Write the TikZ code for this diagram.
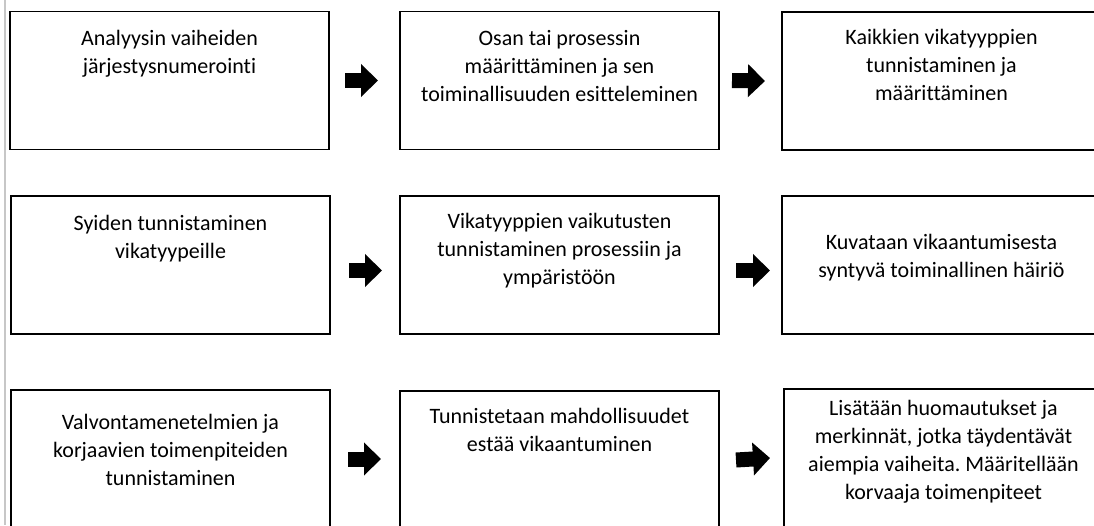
\documentclass[tikz,border=0pt]{standalone}
\usepackage{fontspec}
\setmainfont{Carlito}[Ligatures=NoCommon]
\usetikzlibrary{arrows.meta}
\frenchspacing

\tikzset{
  stage/.style={draw, line width=1.6pt, minimum width=319pt, minimum height=138pt,
    inner sep=0pt, outer sep=0pt},
  stagetext/.style={anchor=north, align=center, inner sep=0pt,
    font=\fontsize{22}{28}\selectfont, execute at begin node=\strut},
  blockarrow/.style={line width=15pt, -{Triangle[length=17pt,width=32pt]}}
}

\begin{document}
\begin{tikzpicture}[x=1pt,y=-1pt]
\useasboundingbox (0,0) rectangle (1094,525);
\clip (0,0) rectangle (1094,525);
\draw[black!22, line width=1.5pt] (5,0) -- (5,525);

% first row
\node[stage] (b11) at (169.5,80.5) {};
\node[stage] (b12) at (559.5,80.5) {};
\node[stage] (b13) at (941.5,81) {};
\node[stagetext, yshift=-18.4pt] at (b11.north) {Analyysin vaiheiden\\järjestysnumerointi};
\node[stagetext, yshift=-18.5pt] at (b12.north) {Osan tai prosessin\\määrittäminen ja sen\\toiminallisuuden esitteleminen};
\node[stagetext, yshift=-17pt] at (b13.north) {Kaikkien vikatyyppien\\tunnistaminen ja\\määrittäminen};

% second row
\node[stage] (b21) at (170.5,265) {};
\node[stage] (b22) at (559.5,265) {};
\node[stage] (b23) at (941.5,265) {};
\node[stagetext, yshift=-19pt] at (b21.north) {Syiden tunnistaminen\\vikatyypeille};
\node[stagetext, yshift=-17.4pt] at (b22.north) {Vikatyyppien vaikutusten\\tunnistaminen prosessiin ja\\ympäristöön};
\node[stagetext, yshift=-38.4pt] at (b23.north) {Kuvataan vikaantumisesta\\syntyvä toiminallinen häiriö};

% third row
\node[stage] (b31) at (170.5,459) {};
\node[stage] (b32) at (559.5,460) {};
\node[stage] (b33) at (943.5,458) {};
\node[stagetext, yshift=-24pt] at (b31.north) {Valvontamenetelmien ja\\korjaavien toimenpiteiden\\tunnistaminen};
\node[stagetext, yshift=-17pt] at (b32.north) {Tunnistetaan mahdollisuudet\\estää vikaantuminen};
\node[stagetext, yshift=-11.5pt] at (b33.north) {Lisätään huomautukset ja\\merkinnät, jotka täydentävät\\aiempia vaiheita. Määritellään\\korvaaja toimenpiteet};

% arrows between the stages
\draw[blockarrow] ([xshift=16pt]b11.east) -- ([xshift=-22pt]b12.west);
\draw[blockarrow] ([xshift=13pt]b12.east) -- ([xshift=-17pt]b13.west);
\draw[blockarrow] ([xshift=19pt,yshift=-5.5pt]b21.east) -- ([xshift=-18pt,yshift=-5.5pt]b22.west);
\draw[blockarrow] ([xshift=17pt,yshift=-5.5pt]b22.east) -- ([xshift=-12pt,yshift=-5.5pt]b23.west);
\draw[blockarrow] ([xshift=18pt]b31.east) -- ([xshift=-19pt,yshift=1pt]b32.west);
\draw[blockarrow] ([xshift=17pt]b32.east) -- ([xshift=-14pt]b33.west);
\end{tikzpicture}
\end{document}
